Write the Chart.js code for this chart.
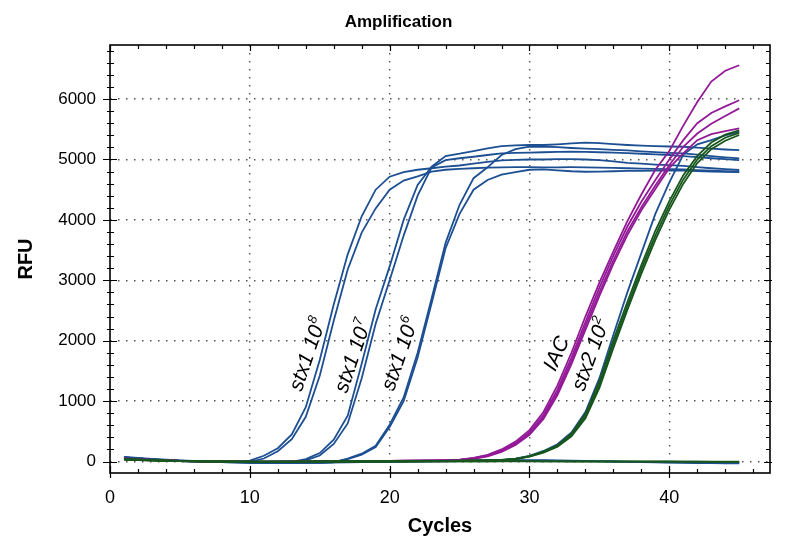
<!DOCTYPE html>
<html>
<head>
<meta charset="utf-8">
<script src="https://cdn.jsdelivr.net/npm/chart.js@4.4.1/dist/chart.umd.min.js"></script>
<style>
  html, body { margin: 0; padding: 0; background: #fff; }
</style>
</head>
<body>
<canvas id="amp" width="797" height="554"></canvas>
<script>
// cycles 1..45
const cycles = [1,2,3,4,5,6,7,8,9,10,11,12,13,14,15,16,17,18,19,20,21,22,23,24,25,26,27,28,29,30,31,32,33,34,35,36,37,38,39,40,41,42,43,44,45];

const xTicks = [0, 10, 20, 30, 40];
const yTicks = [0, 1000, 2000, 3000, 4000, 5000, 6000];

// stx1 dilutions (blue)
const stx1e8a = [70,50,35,22,12,5,0,-5,-8,15, 95,220,450,900,1680,2600,3430,4060,4500,4715, 4790,4830,4855,4880,4900,4930,4960,4985,4995,5000, 5000,5005,5005,5000,4990,4970,4945,4930,4915,4905, 4895,4875,4855,4840,4826];
const stx1e8b = [65,48,32,20,10,3,-2,-8,-12,-5, 50,170,370,740,1420,2330,3180,3790,4190,4500, 4650,4720,4800,4830,4845,4855,4865,4870,4875,4875, 4870,4870,4872,4870,4865,4860,4855,4850,4845,4840, 4837,4825,4815,4805,4800];
const stx1e7a = [70,50,35,22,12,5,0,-5,-10,-15, -18,-15,-5,40,140,360,760,1620,2520,3230, 4000,4580,4880,5057,5095,5140,5185,5222,5235,5240, 5240,5250,5265,5278,5270,5255,5240,5230,5222,5215, 5211,5195,5180,5165,5155];
const stx1e7b = [65,45,30,18,8,2,-3,-10,-15,-20, -22,-20,-12,20,100,290,630,1380,2280,3000, 3740,4400,4870,4990,5020,5045,5074,5101,5110,5115, 5120,5125,5130,5125,5120,5115,5105,5095,5085,5074, 5057,5040,5020,5005,4990];
const stx1e6a = [70,50,35,22,12,5,0,-5,-10,-15, -20,-22,-22,-20,-18,-10,50,130,260,610, 1060,1800,2700,3620,4250,4690,4870,5074,5170,5211, 5215,5205,5190,5180,5170,5160,5150,5135,5120,5110, 5101,5080,5055,5035,5019];
const stx1e6b = [65,45,30,18,8,2,-3,-10,-15,-20, -22,-25,-25,-22,-20,-12,40,115,240,570, 1000,1720,2620,3530,4100,4500,4660,4750,4790,4830, 4837,4820,4805,4797,4800,4805,4810,4812,4815,4815, 4815,4808,4800,4795,4790];
const stx2Blue = [55,42,30,20,12,6,2,-1,-3,-4, -4,-3,-2,-1,0,1,2,3,4,5, 6,8,10,12,14,17,20,25, 48,95,175,285,480,820,1380,2100,2800,3450,4100,4620,5080,5250,5320,5400,5455];
const blankBlueA = [75,58,42,30,20,12,6,0,-5,-10, -14,-16,-18,-18,-17,-15,-12,-9,-6,-3, 0,3,6,9,12,15,18,20,22,24, 22,20,15,10,5,0,-5,-10,-14,-18, -22,-25,-27,-29,-30];
const blankBlueB = [60,45,32,22,14,8,3,-2,-6,-10, -12,-14,-15,-15,-14,-12,-10,-8,-6,-4, -2,0,2,4,6,8,10,12,14,16, 15,12,9,6,3,0,-3,-6,-9,-12, -15,-18,-20,-22,-24];

// IAC (magenta)
const iacA = [50,38,28,20,12,6,2,0,-2,-3, -3,-2,0,2,3,5,6,8,10,12, 14,16,18,22, 30,60,110,200,330,520,820,1260,1800,2400,2960,3480,3980,4420,4830,5140,5560,5950,6290,6470,6560];
const iacB = [46,35,26,18,11,5,1,-1,-3,-4, -4,-3,-1,1,2,4,5,7,9,11, 13,15,17,20, 28,55,100,185,305,485,770,1190,1720,2310,2880,3410,3890,4300,4660,5000,5320,5600,5770,5880,5980];
const iacC = [42,32,24,16,10,4,0,-2,-4,-5, -5,-4,-2,0,1,3,4,6,8,10, 12,14,16,19, 26,50,92,172,290,460,735,1140,1660,2240,2800,3330,3810,4210,4570,4910,5210,5430,5590,5720,5846];
const iacD = [38,29,21,14,8,3,0,-3,-5,-6, -6,-5,-3,-1,0,2,3,5,7,9, 11,13,15,18, 24,46,85,160,275,440,705,1100,1610,2180,2740,3270,3750,4160,4510,4860,5100,5320,5420,5470,5515];

// stx2 10^2 (green)
const stx2A = [40,30,22,15,10,5,2,0,-2,-3, -3,-2,-1,0,0,1,2,3,4,5, 6,8,10,12,14,17,20,25, 45,90,165,270,460,790,1330,2010,2640,3250,3820,4310,4740,5060,5280,5410,5480];
const stx2B = [36,27,20,14,9,4,1,-1,-3,-4, -4,-3,-2,-1,0,0,1,2,3,4, 5,7,9,11,13,16,19,23, 42,85,155,255,435,750,1270,1940,2570,3180,3740,4240,4670,5000,5220,5360,5440];
const stx2C = [32,24,18,12,8,3,0,-2,-4,-5, -5,-4,-3,-2,-1,0,1,1,2,3, 4,6,8,10,12,15,18,22, 40,80,148,245,415,715,1220,1880,2510,3110,3670,4170,4600,4940,5170,5310,5405];
const blankGreenA = [45,35,25,18,12,7,4,2,0,-2, -3,-3,-2,-2,-1,0,0,1,1,2, 2,3,3,3,4,4,4,5,5,5, 4,4,3,3,2,2,1,1,0,0, -1,-1,-2,-2,-3];
const blankGreenB = [30,22,15,10,5,2,0,-2,-4,-5, -6,-6,-5,-5,-4,-3,-2,-2,-1,-1, 0,0,0,1,1,1,2,2,2,2, 1,1,0,0,-1,-1,-2,-2,-3,-3, -4,-4,-5,-5,-6];

const BLUE = '#1d4f93';
const MAGENTA = '#931a97';
const GREEN = '#17561c';

const curveLabels = [
  { text: 'stx1 10', sup: '8', cycle: 14.1, rfu: 1780, angle: 71 },
  { text: 'stx1 10', sup: '7', cycle: 17.35, rfu: 1750, angle: 71 },
  { text: 'stx1 10', sup: '6', cycle: 20.7, rfu: 1785, angle: 71 },
  { text: 'IAC', sup: '', cycle: 31.9, rfu: 1790, angle: 66 },
  { text: 'stx2 10', sup: '2', cycle: 34.35, rfu: 1780, angle: 70 }
];

const SANS = '"Liberation Sans", Arial, sans-serif';

function series(values, color) {
  return {
    data: cycles.map((c, i) => ({ x: c, y: values[i] })),
    borderColor: color,
    borderWidth: 1.8,
    pointRadius: 0,
    tension: 0,
    fill: false
  };
}

const datasets = [
  series(blankGreenA, GREEN),
  series(blankGreenB, GREEN),
  series(stx2A, GREEN),
  series(stx2B, GREEN),
  series(stx2C, GREEN),
  series(iacA, MAGENTA),
  series(iacB, MAGENTA),
  series(iacC, MAGENTA),
  series(iacD, MAGENTA),
  series(stx2Blue, BLUE),
  series(stx1e8a, BLUE),
  series(stx1e8b, BLUE),
  series(stx1e7a, BLUE),
  series(stx1e7b, BLUE),
  series(stx1e6a, BLUE),
  series(stx1e6b, BLUE),
  series(blankBlueA, BLUE),
  series(blankBlueB, BLUE)
];

// box round the plot with the small tick marks
const frame = {
  id: 'frame',
  afterDraw(chart) {
    const { ctx, chartArea: a, scales: { x, y } } = chart;
    ctx.save();
    ctx.strokeStyle = '#000';
    ctx.lineWidth = 1.2;
    ctx.beginPath();
    for (let v = 0; v <= 46; v += 2) {
      const px = Math.round(x.getPixelForValue(v)) + 0.5;
      const major = xTicks.includes(v);
      ctx.moveTo(px, a.bottom + (major ? 5 : 0));
      ctx.lineTo(px, a.bottom - (major ? 7 : 4));
      ctx.moveTo(px, a.top);
      ctx.lineTo(px, a.top + (major ? 6 : 4));
    }
    for (let v = 0; v <= 6800; v += 200) {
      const py = Math.round(y.getPixelForValue(v)) + 0.5;
      const major = yTicks.includes(v);
      ctx.moveTo(a.left - (major ? 7 : 3), py);
      ctx.lineTo(a.left + (major ? 7 : 4), py);
      ctx.moveTo(a.right - (major ? 6 : 4), py);
      ctx.lineTo(a.right + (major ? 2 : 0), py);
    }
    ctx.stroke();
    ctx.lineWidth = 1.6;
    ctx.strokeRect(a.left, a.top, a.right - a.left, a.bottom - a.top);
    ctx.restore();
  }
};

const labelsOnCurves = {
  id: 'labelsOnCurves',
  afterDatasetsDraw(chart) {
    const { ctx, scales: { x, y } } = chart;
    ctx.save();
    ctx.fillStyle = '#000';
    ctx.textBaseline = 'alphabetic';
    curveLabels.forEach(l => {
      ctx.save();
      ctx.translate(x.getPixelForValue(l.cycle), y.getPixelForValue(l.rfu));
      ctx.rotate(-l.angle * Math.PI / 180);
      ctx.font = 'italic 21px ' + SANS;
      const w1 = ctx.measureText(l.text).width;
      ctx.font = 'italic 13px ' + SANS;
      const w2 = l.sup ? ctx.measureText(l.sup).width + 1 : 0;
      const x0 = -(w1 + w2) / 2;
      ctx.font = 'italic 21px ' + SANS;
      ctx.fillText(l.text, x0, 7);
      if (l.sup) {
        ctx.font = 'italic 13px ' + SANS;
        ctx.fillText(l.sup, x0 + w1 + 1, -2);
      }
      ctx.restore();
    });
    ctx.restore();
  }
};

new Chart(document.getElementById('amp'), {
  type: 'line',
  data: { datasets },
  plugins: [labelsOnCurves, frame],
  options: {
    responsive: false,
    animation: false,
    layout: { padding: 0 },
    plugins: {
      legend: { display: false },
      tooltip: { enabled: false },
      title: {
        display: true,
        text: 'Amplification',
        color: '#000',
        font: { family: SANS, size: 17, weight: 'bold' },
        padding: { top: 12, bottom: 12.6 }
      }
    },
    scales: {
      x: {
        type: 'linear',
        min: 0,
        max: 47.2,
        afterFit: s => { s.height = 81; },
        afterBuildTicks: s => { s.ticks = xTicks.map(v => ({ value: v })); },
        grid: {
          color: ctx => (ctx.tick && ctx.tick.value > 0 ? '#555' : 'rgba(0,0,0,0)'),
          lineWidth: 1.4,
          drawTicks: false
        },
        border: { display: false, dash: [1.5, 6.5] },
        ticks: {
          color: '#000',
          padding: 14,
          font: { family: SANS, size: 18 },
          callback: v => String(v)
        },
        title: {
          display: true,
          text: 'Cycles',
          color: '#000',
          font: { family: SANS, size: 20, weight: 'bold' },
          padding: { bottom: 16 }
        }
      },
      y: {
        type: 'linear',
        min: -190,
        max: 6895,
        afterFit: s => { s.width = 110; },
        afterBuildTicks: s => { s.ticks = yTicks.map(v => ({ value: v })); },
        grid: {
          color: '#555',
          lineWidth: 1.4,
          drawTicks: false
        },
        border: { display: false, dash: [1.5, 6.5] },
        ticks: {
          color: '#000',
          padding: 14,
          font: { family: SANS, size: 17 },
          callback: v => String(v)
        },
        title: {
          display: true,
          text: 'RFU',
          color: '#000',
          font: { family: SANS, size: 20, weight: 'bold' },
          padding: { top: 14 }
        }
      },
      // empty strip on the right so the title centres on the whole canvas
      yRight: {
        type: 'linear',
        position: 'right',
        min: -190,
        max: 6895,
        afterFit: s => { s.width = 27; },
        grid: { display: false, drawTicks: false },
        border: { display: false },
        ticks: { display: false }
      }
    }
  }
});
</script>
</body>
</html>
